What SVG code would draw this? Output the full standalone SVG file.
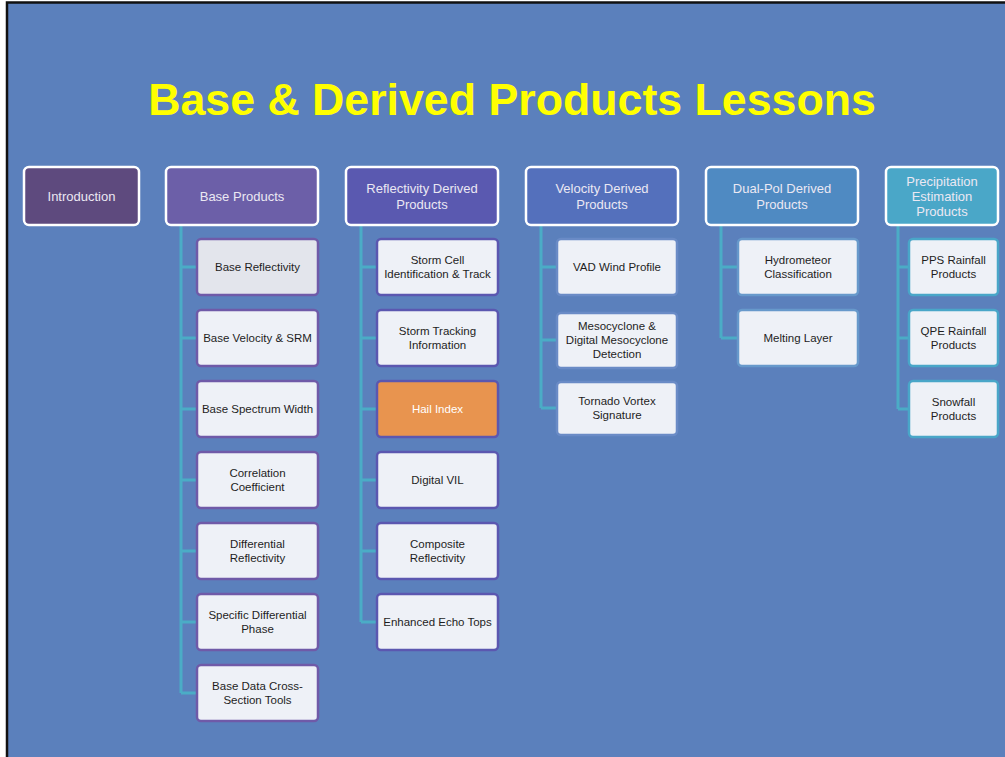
<svg xmlns="http://www.w3.org/2000/svg" width="1005" height="757" viewBox="0 0 1005 757">
<style>
.hd{stroke:#ffffff;stroke-width:2.5}
.hdt{font-family:"Liberation Sans",Arial,sans-serif;font-size:13px;fill:#ebe8f3;text-anchor:middle}
.ch{fill:#eef1f7;stroke-width:2.5}
.cht{font-family:"Liberation Sans",Arial,sans-serif;font-size:11.5px;fill:#1e1e1e;text-anchor:middle}
.p{stroke:#6f5aa8}
.r{stroke:#5b57b0}
.v{stroke:#6a8bc6}
.d{stroke:#6799cb}
.q{stroke:#49a6c8}
.cn{fill:none;stroke:#4bacc6;stroke-width:3}
</style>
<rect x="0" y="0" width="1005" height="757" fill="#ffffff"/>
<rect x="7" y="2.5" width="1000" height="760" fill="#5b80bc" stroke="#111111" stroke-width="2.5"/>
<text x="512" y="115" font-family="'Liberation Sans',Arial,sans-serif" font-weight="bold" font-size="44.7" fill="#ffff00" text-anchor="middle">Base &amp; Derived Products Lessons</text>

<g id="connectors">
<path class="cn" d="M181 225V693M181 267H197M181 338H197M181 409H197M181 480H197M181 551H197M181 622H197M181 693H197"/>
<path class="cn" d="M361 225V622M361 267H377M361 338H377M361 409H377M361 480H377M361 551H377M361 622H377"/>
<path class="cn" d="M541 225V408M541 267H557M541 340H557M541 408H557"/>
<path class="cn" d="M721 225V338M721 267H738M721 338H738"/>
<path class="cn" d="M898 225V409M898 267H909M898 338H909M898 409H909"/>
</g>

<g id="introduction"><rect class="hd" x="24" y="167" width="115" height="58" rx="5" fill="#5e4a7e"/><text class="hdt" x="81.5" y="200.5">Introduction</text></g>
<g id="base-products"><rect class="hd" x="166" y="167" width="152" height="58" rx="5" fill="#6c5fa8"/><text class="hdt" x="242" y="200.5">Base Products</text></g>
<g id="reflectivity-derived"><rect class="hd" x="346" y="167" width="152" height="58" rx="5" fill="#5a59b0"/><text class="hdt" x="422" y="192.5">Reflectivity Derived</text><text class="hdt" x="422" y="208.5">Products</text></g>
<g id="velocity-derived"><rect class="hd" x="526" y="167" width="152" height="58" rx="5" fill="#5470bc"/><text class="hdt" x="602" y="192.5">Velocity Derived</text><text class="hdt" x="602" y="208.5">Products</text></g>
<g id="dualpol-derived"><rect class="hd" x="706" y="167" width="152" height="58" rx="5" fill="#4f8ac2"/><text class="hdt" x="782" y="192.5">Dual-Pol Derived</text><text class="hdt" x="782" y="208.5">Products</text></g>
<g id="precip-estimation"><rect class="hd" x="886" y="167" width="112" height="58" rx="5" fill="#4aa7c8"/><text class="hdt" x="942" y="185.5">Precipitation</text><text class="hdt" x="942" y="200.5">Estimation</text><text class="hdt" x="942" y="215.5">Products</text></g>

<g id="base-reflectivity"><rect class="ch p" x="197" y="239" width="121" height="56" rx="4" style="fill:#e3e5ec"/><text class="cht" x="257.5" y="271">Base Reflectivity</text></g>
<g id="base-velocity"><rect class="ch p" x="197" y="310" width="121" height="56" rx="4"/><text class="cht" x="257.5" y="342">Base Velocity &amp; SRM</text></g>
<g id="base-spectrum"><rect class="ch p" x="197" y="381" width="121" height="56" rx="4"/><text class="cht" x="257.5" y="413">Base Spectrum Width</text></g>
<g id="correlation"><rect class="ch p" x="197" y="452" width="121" height="56" rx="4"/><text class="cht" x="257.5" y="477">Correlation</text><text class="cht" x="257.5" y="491">Coefficient</text></g>
<g id="differential-refl"><rect class="ch p" x="197" y="523" width="121" height="56" rx="4"/><text class="cht" x="257.5" y="548">Differential</text><text class="cht" x="257.5" y="562">Reflectivity</text></g>
<g id="specific-diff-phase"><rect class="ch p" x="197" y="594" width="121" height="56" rx="4"/><text class="cht" x="257.5" y="619">Specific Differential</text><text class="cht" x="257.5" y="633">Phase</text></g>
<g id="cross-section"><rect class="ch p" x="197" y="665" width="121" height="56" rx="4"/><text class="cht" x="257.5" y="690">Base Data Cross-</text><text class="cht" x="257.5" y="704">Section Tools</text></g>

<g id="storm-cell"><rect class="ch r" x="377" y="239" width="121" height="56" rx="4"/><text class="cht" x="437.5" y="264">Storm Cell</text><text class="cht" x="437.5" y="278">Identification &amp; Track</text></g>
<g id="storm-tracking"><rect class="ch r" x="377" y="310" width="121" height="56" rx="4"/><text class="cht" x="437.5" y="335">Storm Tracking</text><text class="cht" x="437.5" y="349">Information</text></g>
<g id="hail-index"><rect class="ch r" x="377" y="381" width="121" height="56" rx="4" style="fill:#e8944f"/><text class="cht" x="437.5" y="413" style="fill:#ffffff">Hail Index</text></g>
<g id="digital-vil"><rect class="ch r" x="377" y="452" width="121" height="56" rx="4"/><text class="cht" x="437.5" y="484">Digital VIL</text></g>
<g id="composite-refl"><rect class="ch r" x="377" y="523" width="121" height="56" rx="4"/><text class="cht" x="437.5" y="548">Composite</text><text class="cht" x="437.5" y="562">Reflectivity</text></g>
<g id="echo-tops"><rect class="ch r" x="377" y="594" width="121" height="56" rx="4"/><text class="cht" x="437.5" y="626">Enhanced Echo Tops</text></g>

<g id="vad-wind"><rect class="ch v" x="557" y="239" width="120" height="56" rx="4"/><text class="cht" x="617" y="271">VAD Wind Profile</text></g>
<g id="mesocyclone"><rect class="ch v" x="557" y="313" width="120" height="55" rx="4"/><text class="cht" x="617" y="330">Mesocyclone &amp;</text><text class="cht" x="617" y="344">Digital Mesocyclone</text><text class="cht" x="617" y="358">Detection</text></g>
<g id="tvs"><rect class="ch v" x="557" y="382" width="120" height="53" rx="4"/><text class="cht" x="617" y="405">Tornado Vortex</text><text class="cht" x="617" y="419">Signature</text></g>

<g id="hydrometeor"><rect class="ch d" x="738" y="239" width="120" height="56" rx="4"/><text class="cht" x="798" y="264">Hydrometeor</text><text class="cht" x="798" y="278">Classification</text></g>
<g id="melting-layer"><rect class="ch d" x="738" y="310" width="120" height="56" rx="4"/><text class="cht" x="798" y="342">Melting Layer</text></g>

<g id="pps-rainfall"><rect class="ch q" x="909" y="239" width="89" height="56" rx="4"/><text class="cht" x="953.5" y="264">PPS Rainfall</text><text class="cht" x="953.5" y="278">Products</text></g>
<g id="qpe-rainfall"><rect class="ch q" x="909" y="310" width="89" height="56" rx="4"/><text class="cht" x="953.5" y="335">QPE Rainfall</text><text class="cht" x="953.5" y="349">Products</text></g>
<g id="snowfall"><rect class="ch q" x="909" y="381" width="89" height="56" rx="4"/><text class="cht" x="953.5" y="406">Snowfall</text><text class="cht" x="953.5" y="420">Products</text></g>
</svg>
